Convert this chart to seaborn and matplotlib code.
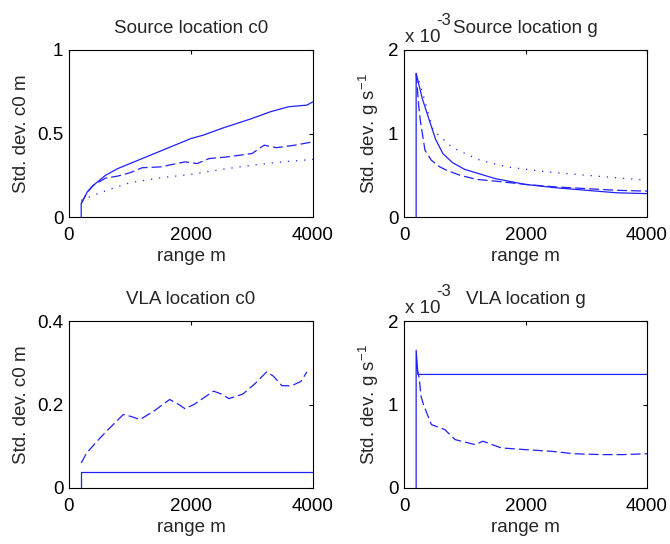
import numpy as np
import pandas as pd
import matplotlib
matplotlib.use("Agg")
import matplotlib.pyplot as plt
import seaborn as sns

# ---------------- data ----------------
# Source location c0
sc0_solid_x = [200, 200, 300, 400, 600, 800, 1000, 1200, 1500, 2000, 2200, 2500, 3000, 3300, 3600, 3900, 4000]
sc0_solid_y = [0.0, 0.08, 0.15, 0.19, 0.25, 0.29, 0.32, 0.35, 0.395, 0.47, 0.49, 0.53, 0.59, 0.63, 0.66, 0.67, 0.69]
sc0_dash_x = [200, 300, 400, 600, 800, 1000, 1200, 1500, 1700, 1900, 2100, 2300, 2600, 2800, 3000, 3200, 3400, 3700, 4000]
sc0_dash_y = [0.08, 0.15, 0.19, 0.233, 0.245, 0.265, 0.295, 0.30, 0.315, 0.33, 0.32, 0.35, 0.36, 0.37, 0.38, 0.43, 0.415, 0.43, 0.45]
sc0_dot_x = [200, 400, 700, 1000, 1500, 2000, 2500, 3000, 3500, 4000]
sc0_dot_y = [0.1, 0.13, 0.17, 0.205, 0.235, 0.255, 0.285, 0.31, 0.33, 0.345]

# Source location g (units of 1e-3)
sg_solid_x = [200, 200, 300, 430, 520, 640, 800, 1000, 1500, 2000, 2500, 3000, 3500, 4000]
sg_solid_y = [0.0, 1.72, 1.42, 1.13, 0.93, 0.76, 0.65, 0.57, 0.46, 0.39, 0.35, 0.32, 0.29, 0.28]
sg_dash_x = [200, 240, 270, 345, 450, 590, 700, 920, 1200, 1500, 2000, 2500, 3000, 3500, 4000]
sg_dash_y = [1.72, 1.35, 1.15, 0.8, 0.68, 0.6, 0.56, 0.5, 0.45, 0.43, 0.39, 0.36, 0.34, 0.32, 0.31]
sg_dot_x = [200, 260, 300, 480, 800, 1250, 1700, 2350, 3000, 3500, 4000]
sg_dot_y = [1.72, 1.6, 1.5, 1.04, 0.83, 0.68, 0.6, 0.54, 0.5, 0.47, 0.44]

# VLA location c0
vc0_solid_x = [200, 200, 4000]
vc0_solid_y = [0.0, 0.038, 0.038]
vc0_dash_x = [200, 290, 510, 670, 890, 1000, 1165, 1400, 1650, 1800, 1900, 2050, 2370, 2500, 2620, 2850, 3050, 3240, 3350, 3490, 3650, 3800, 3900]
vc0_dash_y = [0.06, 0.084, 0.12, 0.144, 0.176, 0.172, 0.164, 0.185, 0.212, 0.2, 0.19, 0.2, 0.232, 0.225, 0.214, 0.225, 0.25, 0.278, 0.268, 0.245, 0.245, 0.255, 0.278]

# VLA location g (units of 1e-3)
vg_solid_x = [200, 200, 230, 4000]
vg_solid_y = [0.0, 1.65, 1.36, 1.36]
vg_dash_x = [210, 250, 280, 320, 450, 670, 840, 1000, 1170, 1300, 1600, 1990, 2420, 2800, 3250, 3600, 4000]
vg_dash_y = [1.44, 1.32, 1.1, 1.0, 0.76, 0.7, 0.58, 0.55, 0.52, 0.56, 0.48, 0.46, 0.44, 0.41, 0.4, 0.4, 0.41]

titles = ["Source location c0", "Source location g", "VLA location c0", "VLA location g"]
ylabels = ["Std. dev. c0 m", "Std. dev. g s$^{-1}$", "Std. dev. c0 m", "Std. dev. g s$^{-1}$"]
xlabel = "range m"
xticks = [0, 2000, 4000]
yticks = [[0, 0.5, 1], [0, 1, 2], [0, 0.2, 0.4], [0, 1, 2]]
ytick_labels = [["0", "0.5", "1"], ["0", "1", "2"], ["0", "0.2", "0.4"], ["0", "1", "2"]]
ylims = [(0, 1), (0, 2), (0, 0.4), (0, 2)]
exponent_base = "x 10"
exponent_power = "-3"

# ---------------- plotting ----------------
sns.set_style("white")
plt.rcParams["font.family"] = ["Liberation Sans", "DejaVu Sans"]
plt.rcParams["mathtext.fontset"] = "custom"
plt.rcParams["mathtext.rm"] = "Liberation Sans"
plt.rcParams["mathtext.it"] = "Liberation Sans"

fig = plt.figure(figsize=(6.7, 5.44), dpi=100)
W, H = 670.0, 544.0
rects = [
    (69 / W, 1 - 217 / H, 244 / W, 167 / H),
    (404 / W, 1 - 217 / H, 243 / W, 167 / H),
    (69 / W, 1 - 488 / H, 244 / W, 167 / H),
    (404 / W, 1 - 488 / H, 243 / W, 167 / H),
]
axes = [fig.add_axes(r) for r in rects]

color = "#2020ff"
lw = 0.9
solid = ""
dashed = (8, 3.2)
dotted = (1, 5.5)

def draw(ax, xs, ys, dash):
    df = pd.DataFrame({"x": xs, "y": ys})
    kw = dict(data=df, x="x", y="y", ax=ax, sort=False, estimator=None, color=color, linewidth=lw)
    line = sns.lineplot(**kw).lines[-1]
    if dash != "":
        line.set_dashes(dash)

draw(axes[0], sc0_solid_x, sc0_solid_y, solid)
draw(axes[0], sc0_dash_x, sc0_dash_y, dashed)
draw(axes[0], sc0_dot_x, sc0_dot_y, dotted)

draw(axes[1], sg_solid_x, sg_solid_y, solid)
draw(axes[1], sg_dash_x, sg_dash_y, dashed)
draw(axes[1], sg_dot_x, sg_dot_y, dotted)

draw(axes[2], vc0_solid_x, vc0_solid_y, solid)
draw(axes[2], vc0_dash_x, vc0_dash_y, dashed)

draw(axes[3], vg_solid_x, vg_solid_y, solid)
draw(axes[3], vg_dash_x, vg_dash_y, dashed)

fs = 13.5
for i, ax in enumerate(axes):
    ax.set_xlim(0, 4000)
    ax.set_ylim(*ylims[i])
    ax.set_xticks(xticks)
    ax.set_xticklabels([str(t) for t in xticks])
    ax.set_yticks(yticks[i])
    ax.set_yticklabels(ytick_labels[i])
    ax.tick_params(direction="in", length=3, width=0.8, top=True, right=True,
                   labelsize=fs, colors="black")
    ax.tick_params(axis="x", pad=7)
    ax.tick_params(axis="y", pad=4)
    for s in ax.spines.values():
        s.set_color("black")
        s.set_linewidth(0.8)
        s.set_visible(True)
    ax.set_xlabel(xlabel, fontsize=fs, labelpad=3)
    ax.set_ylabel(ylabels[i], fontsize=fs, labelpad=5)
    ax.set_title(titles[i], fontsize=fs, pad=12)
    ax.grid(False)

for ax in (axes[1], axes[3]):
    ax.annotate(exponent_base, xy=(0, 1), xycoords="axes fraction",
                xytext=(1, 6), textcoords="offset points", fontsize=fs,
                ha="left", va="baseline")
    ax.annotate(exponent_power, xy=(0, 1), xycoords="axes fraction",
                xytext=(23, 18), textcoords="offset points", fontsize=fs - 1.5,
                ha="left", va="baseline")

fig.savefig("out.png", dpi=100)
